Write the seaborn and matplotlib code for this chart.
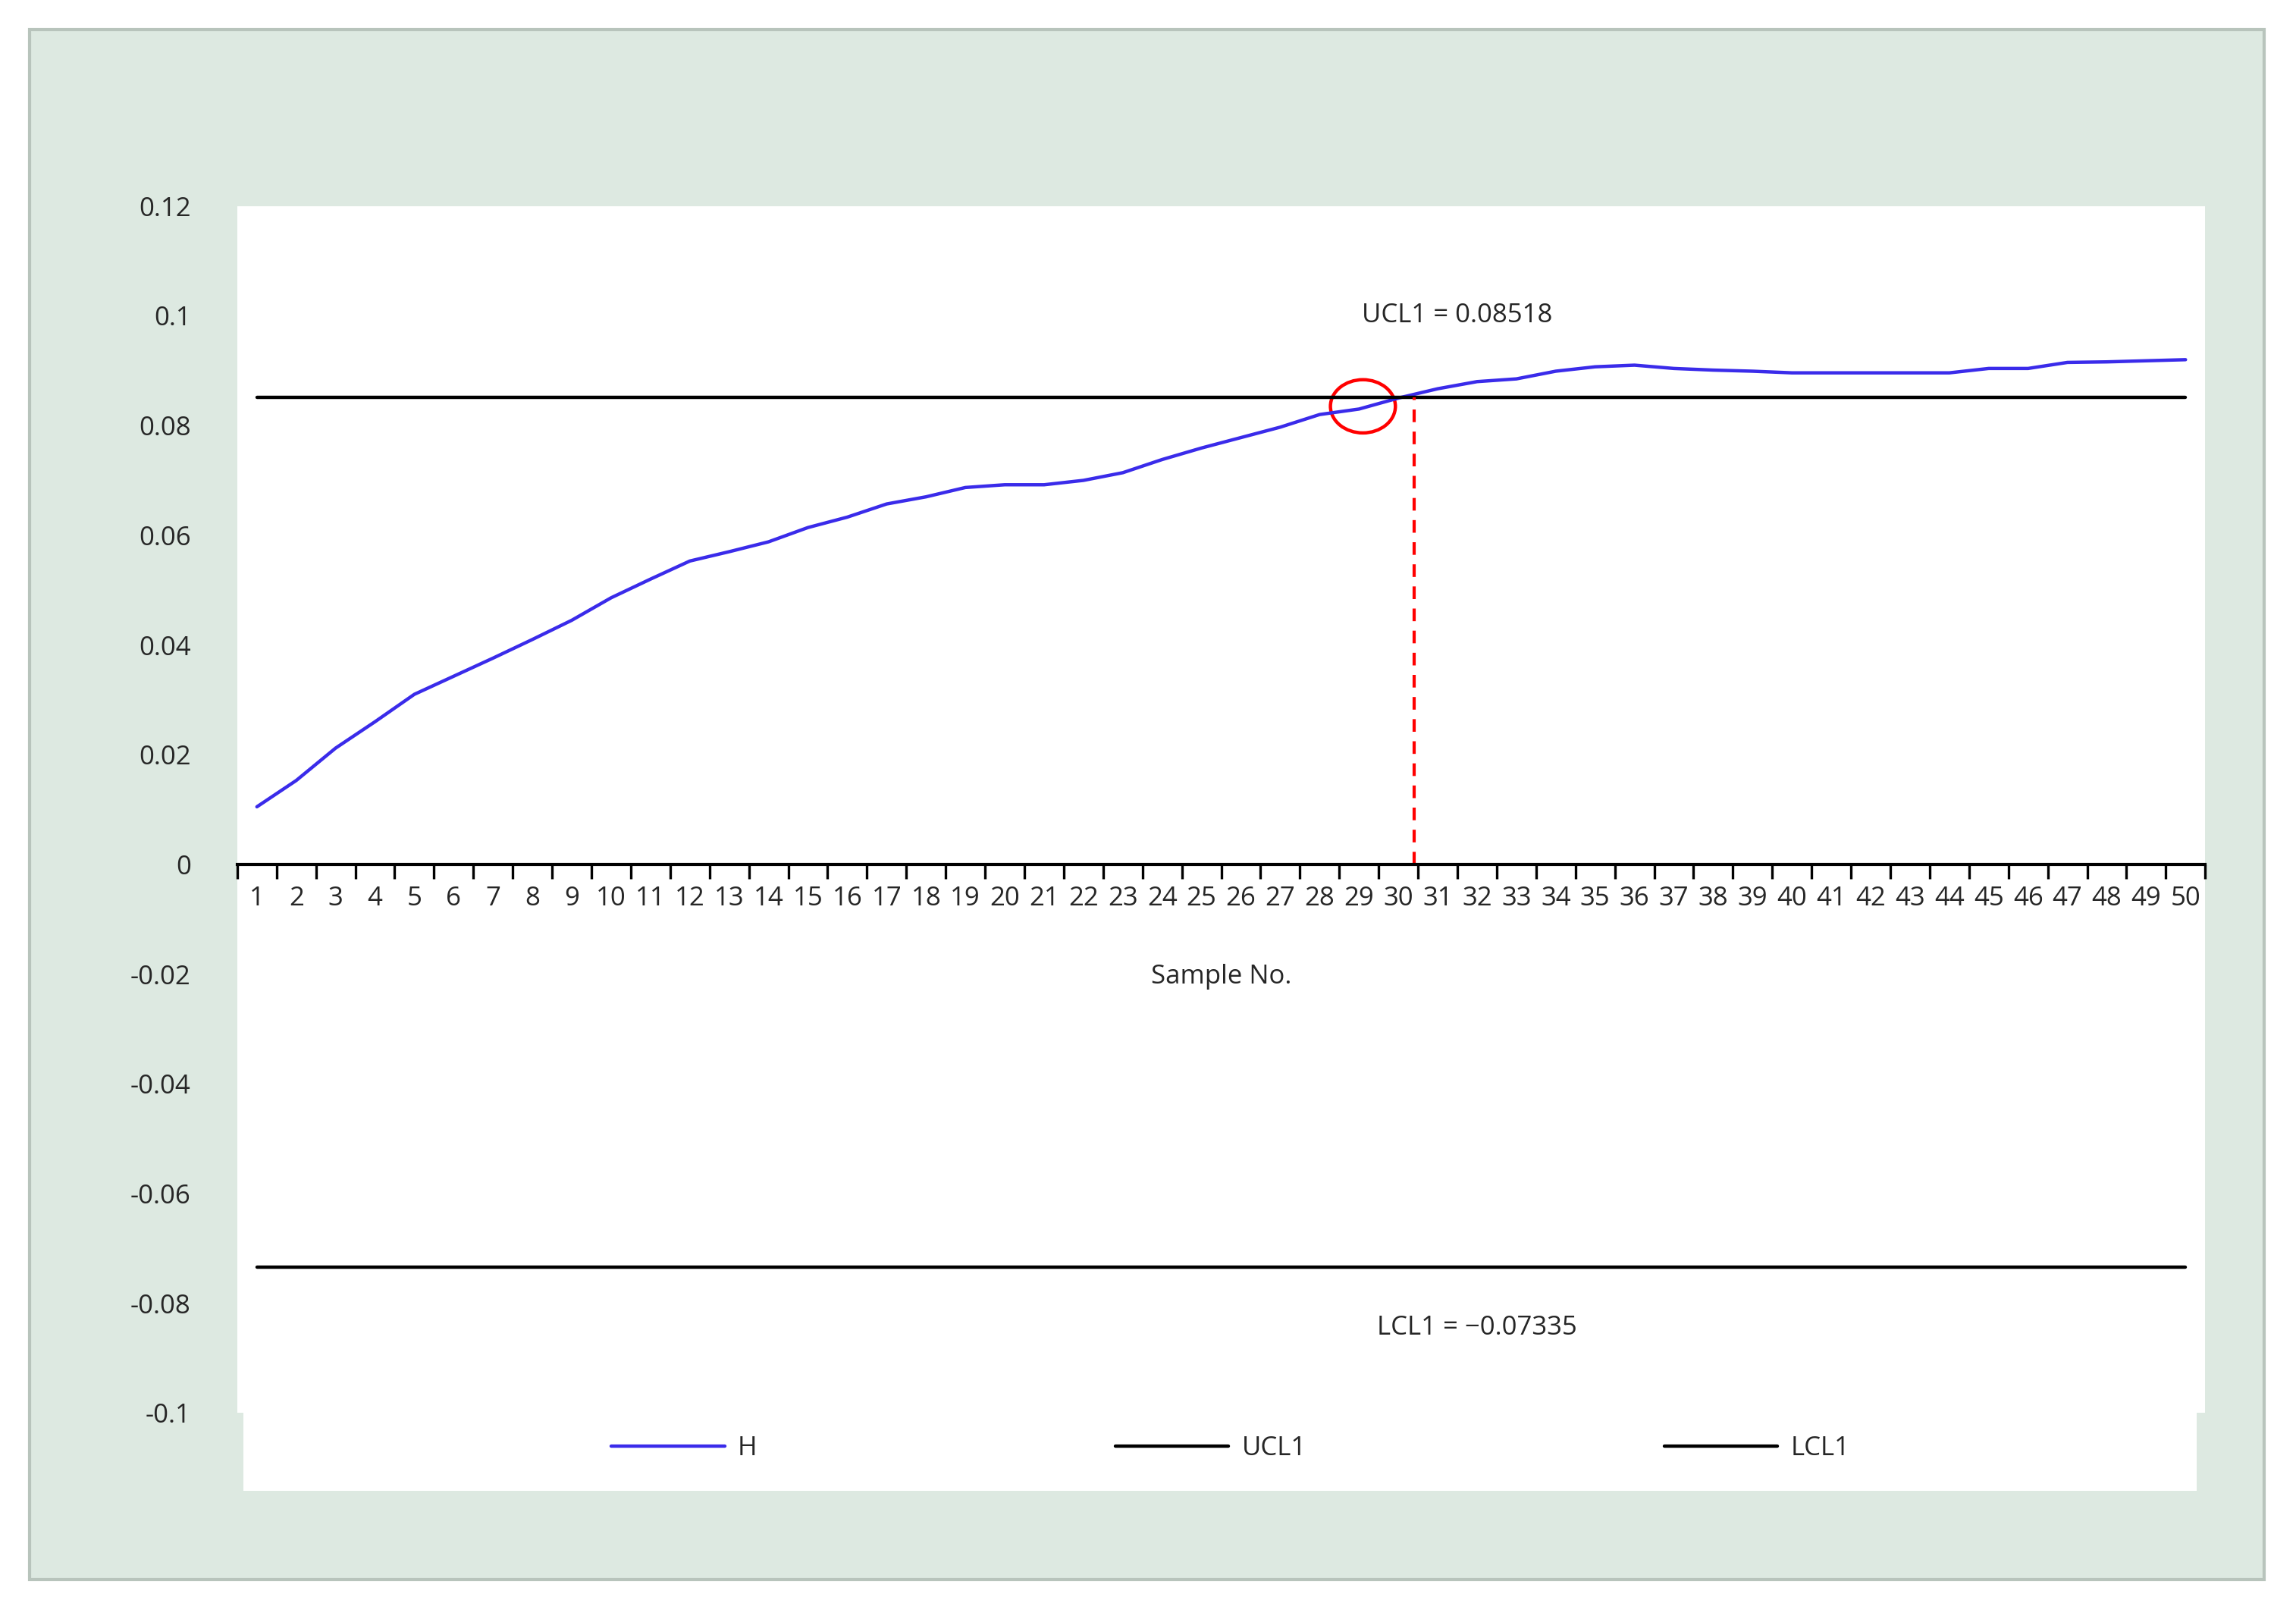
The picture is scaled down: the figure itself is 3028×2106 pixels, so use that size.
import matplotlib
matplotlib.use("Agg")
import matplotlib.pyplot as plt
import seaborn as sns
import pandas as pd
from matplotlib.patches import Ellipse, Rectangle

samples = list(range(1, 51))
h_values = [0.0105, 0.0153, 0.0212, 0.026, 0.031, 0.0343, 0.0376, 0.041, 0.0445, 0.0486,
            0.052, 0.0553, 0.057, 0.0588, 0.0614, 0.0633, 0.0657, 0.067, 0.0687, 0.0692,
            0.0692, 0.07, 0.0714, 0.0738, 0.0759, 0.0778, 0.0797, 0.082, 0.083, 0.085,
            0.0867, 0.088, 0.0885, 0.0899, 0.0907, 0.091, 0.0904, 0.0901, 0.0899, 0.0896,
            0.0896, 0.0896, 0.0896, 0.0896, 0.0904, 0.0904, 0.0915, 0.0916, 0.0918, 0.092]
ucl1 = 0.08518
lcl1 = -0.07335
yticks = [0.12, 0.1, 0.08, 0.06, 0.04, 0.02, 0, -0.02, -0.04, -0.06, -0.08, -0.1]
ytick_labels = ["0.12", "0.1", "0.08", "0.06", "0.04", "0.02", "0", "-0.02", "-0.04", "-0.06", "-0.08", "-0.1"]

sns.set_theme(style="white")
plt.rcParams['font.family'] = ['Open Sans', 'DejaVu Sans']
fs = 12.5

bg = "#dde9e1"
fig = plt.figure(figsize=(15.14, 10.53), dpi=200, facecolor="white")
fig.patches.append(Rectangle((20/1568, 1-1073/1085), 1526/1568, 1053/1085, transform=fig.transFigure,
                             facecolor=bg, edgecolor="#b8c4bc", lw=1.5, zorder=-10))
fig.patches.append(Rectangle((166/1568, 1-1013/1085), 1334/1568, 53/1085, transform=fig.transFigure,
                             facecolor="white", edgecolor="none", zorder=-9))

ax = fig.add_axes([162/1568, 1-960/1085, 1344/1568, 820/1085])
ax.set_facecolor("white")
df = pd.DataFrame({"Sample": samples, "H": h_values})
sns.lineplot(data=df, x="Sample", y="H", ax=ax, color="#3a2bea", lw=1.6, label="H")
ax.plot([1, 50], [ucl1, ucl1], color="black", lw=1.6, label="UCL1")
ax.plot([1, 50], [lcl1, lcl1], color="black", lw=1.6, label="LCL1")
ax.plot([30.4, 30.4], [0, ucl1], color="red", ls=(0, (4, 3)), lw=1.5)
ax.add_patch(Ellipse((29.1, 0.0835), 1.65, 0.0097, fill=False, edgecolor="red", lw=1.6))

ax.set_xlim(0.5, 50.5)
ax.set_ylim(-0.1, 0.12)
for s in ["top", "right", "left"]:
    ax.spines[s].set_visible(False)
ax.spines["bottom"].set_position(("data", 0))
ax.spines["bottom"].set_color("black")
ax.spines["bottom"].set_linewidth(1.5)
ax.set_xticks(samples)
ax.set_xticklabels([str(s) for s in samples], fontsize=fs)
ax.set_xticks([s + 0.5 for s in [0] + samples], minor=True)
ax.tick_params(axis="x", which="major", length=0, pad=10)
ax.tick_params(axis="x", which="minor", length=7, width=1.2, color="black", direction="out", bottom=True)
ax.set_yticks(yticks)
ax.set_yticklabels(ytick_labels, fontsize=fs)
ax.tick_params(axis="y", length=0, pad=22)
ax.set_xlabel("")
ax.set_ylabel("")
ax.text(25.5, -0.0205, "Sample No.", ha="center", va="center", fontsize=fs)
ax.text(31.5, 0.1, "UCL1 = 0.08518", ha="center", va="center", fontsize=fs)
ax.text(32, -0.0845, "LCL1 = \u22120.07335", ha="center", va="center", fontsize=fs)
if ax.get_legend():
    ax.get_legend().remove()

handles, labels = ax.get_legend_handles_labels()
fig.legend(handles, labels, loc="center", bbox_to_anchor=(0.536, 1-984/1085), ncol=3, frameon=False,
           fontsize=fs, handlelength=4.3, columnspacing=13.6, handletextpad=0.5)

fig.savefig("out.png", dpi=200, facecolor="white")
